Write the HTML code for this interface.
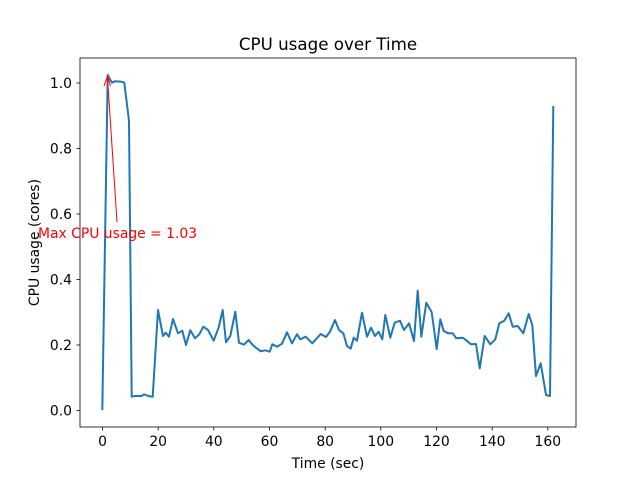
<!DOCTYPE html>
<html><head><meta charset="utf-8"><style>body{margin:0;background:#fff}</style></head><body>
<svg width="640" height="480" xmlns="http://www.w3.org/2000/svg" font-family="'DejaVu Sans', sans-serif">
<rect width="640" height="480" fill="#fff"/>
<polyline fill="none" stroke="#1f77b4" stroke-width="2" stroke-linejoin="round" points="102.3,410 107.7,75 112,82.7 115,81.3 121.7,81.7 124.3,82.7 129,120.7 131.7,396.7 135,396 141.7,396 144,394.3 148.3,396 152.7,396.7 158,310 163,336 165.7,332.7 169,336.7 173,319 178,333.3 182.3,330.7 186,345 190.3,330.3 195,338.3 199.3,334.3 203.3,326.7 208,330 213.7,340.7 218.7,327.3 222.7,310 226,342.3 230.3,336 235.3,311.7 239,342.7 244,344.7 248.7,340 252.7,345 256.7,348.3 260.7,351.3 265,350.3 269.7,351.7 272.3,344.3 277.3,346.7 282,343.7 287,332.3 292,343.3 297,334.3 300.3,339.3 305.7,336.7 312.3,343.3 320.7,334 326,337 330,331.7 335,320 339,330 343.3,333.3 347,346 350.7,348.7 353.7,337.7 357,340.7 362,312.7 367,336.7 371,327.7 375,336 378.7,331.7 382.3,339.3 385.3,315 390.3,337.7 394.7,322.7 400,320.7 404,330 409,323.3 414,341 417.7,290.7 421.3,336.7 426.3,302.7 431.7,312.3 436.7,349 440.3,319.3 443.7,331 448.3,333.3 452.7,333.3 456.3,338.3 462.7,337.7 466.7,340.7 471,344.3 476,344 479.7,368.3 484.7,336 490.3,344.3 495.3,339.3 499.3,323.3 504.3,320.7 508.7,313.3 512.7,326.7 517.7,326 523.3,333.3 528.7,314 532.3,325 536,376 540.7,363.3 546,395 550,396 553.3,106"/>
<rect x="80" y="58" width="496" height="369" fill="none" stroke="#000" stroke-width="0.8"/>
<g stroke="#000" stroke-width="0.8">
<line x1="102.5" y1="427" x2="102.5" y2="430.5"/><line x1="158.2" y1="427" x2="158.2" y2="430.5"/><line x1="213.8" y1="427" x2="213.8" y2="430.5"/><line x1="269.5" y1="427" x2="269.5" y2="430.5"/><line x1="325.2" y1="427" x2="325.2" y2="430.5"/><line x1="380.8" y1="427" x2="380.8" y2="430.5"/><line x1="436.5" y1="427" x2="436.5" y2="430.5"/><line x1="492.2" y1="427" x2="492.2" y2="430.5"/><line x1="547.8" y1="427" x2="547.8" y2="430.5"/>
<line x1="76.5" y1="410.5" x2="80" y2="410.5"/><line x1="76.5" y1="345" x2="80" y2="345"/><line x1="76.5" y1="279.5" x2="80" y2="279.5"/><line x1="76.5" y1="214" x2="80" y2="214"/><line x1="76.5" y1="148.5" x2="80" y2="148.5"/><line x1="76.5" y1="83" x2="80" y2="83"/>
</g>
<g font-size="13.9px" text-anchor="middle" fill="#000">
<text x="102.5" y="446">0</text><text x="158.2" y="446">20</text><text x="213.8" y="446">40</text><text x="269.5" y="446">60</text><text x="325.2" y="446">80</text><text x="380.8" y="446">100</text><text x="436.5" y="446">120</text><text x="492.2" y="446">140</text><text x="547.8" y="446">160</text>
</g>
<g font-size="13.9px" text-anchor="end" fill="#000">
<text x="72" y="415.5">0.0</text><text x="72" y="350">0.2</text><text x="72" y="284.5">0.4</text><text x="72" y="219">0.6</text><text x="72" y="153.5">0.8</text><text x="72" y="88">1.0</text>
</g>
<text x="328" y="468" font-size="13.9px" text-anchor="middle">Time (sec)</text>
<text x="39" y="242.5" font-size="13.9px" text-anchor="middle" transform="rotate(-90 39 242.5)">CPU usage (cores)</text>
<text x="328" y="50" font-size="16.7px" text-anchor="middle">CPU usage over Time</text>
<line x1="117" y1="222" x2="107.5" y2="78" stroke="red" stroke-width="1"/>
<polyline points="104,86 107.5,76 110.5,86" fill="none" stroke="red" stroke-width="1"/>
<text x="38" y="238" font-size="13.9px" fill="red">Max CPU usage = 1.03</text>
</svg>
</body></html>
